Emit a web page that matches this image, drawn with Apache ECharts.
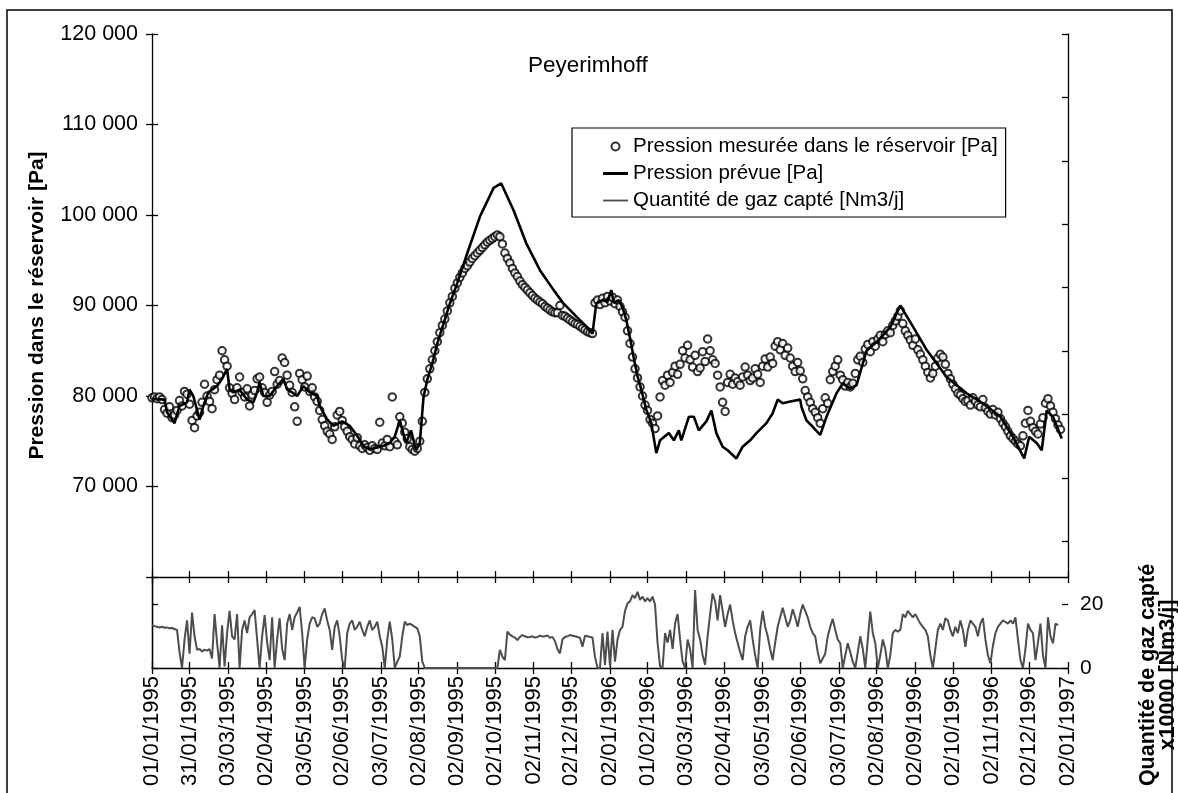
<!DOCTYPE html>
<html>
<head>
<meta charset="utf-8">
<title>Peyerimhoff</title>
<script src="https://cdn.jsdelivr.net/npm/echarts@6.0.0/dist/echarts.min.js"></script>
<style>
  html, body { margin: 0; padding: 0; background: #fff; }
  #chart { width: 1178px; height: 793px; }
</style>
</head>
<body>
<div id="chart"></div>
<script>
// dates of the x ticks (dd/mm/yyyy), positions are days since 01/01/1995
const tickLabels = [
  "01/01/1995", "31/01/1995", "03/03/1995", "02/04/1995", "03/05/1995", "02/06/1995",
  "03/07/1995", "02/08/1995", "02/09/1995", "02/10/1995", "02/11/1995", "02/12/1995",
  "02/01/1996", "01/02/1996", "03/03/1996", "02/04/1996", "03/05/1996", "02/06/1996",
  "03/07/1996", "02/08/1996", "02/09/1996", "02/10/1996", "02/11/1996", "02/12/1996",
  "02/01/1997"
];

// measured reservoir pressure [Pa], one reading every 2 days from 01/01/1995
const measuredStep = 2;
const measuredValues = [
  79800, 79900, 79700, 79900, 79600, 78500, 78100, 78800, 77600, 77900,
  78400, 79500, 78900, 80500, 80200, 79100, 77300, 76500, 77800, 78200,
  79300, 81300, 80000, 79400, 78600, 80700, 81800, 82300, 85000, 84000,
  83300, 80900, 80300, 79600, 80900, 82100, 80400, 79900, 80800, 78900,
  80100, 80600, 81900, 82100, 80900, 80400, 79300, 80100, 80500, 82700,
  81300, 81700, 84200, 83700, 82300, 81200, 80400, 78800, 77200, 82500,
  81800, 81000, 82200, 80500, 80900, 79900, 79400, 78400, 77400, 76700,
  76100, 75800, 75200, 76600, 77900, 78300, 77300, 76600, 76100, 75500,
  75200, 74700, 75400, 74500, 74200, 74600, 74300, 74000, 74500, 74200,
  74100, 77100, 74800, 74500, 75200, 74400, 79900, 75000, 74600, 77700,
  77000, 76000, 75300, 74400, 74100, 73900, 74200, 75000, 77200, 80400,
  81900, 83000, 84000, 85000, 86000, 87000, 87800, 88500, 89400, 90300,
  91000, 91900, 92500, 93100, 93600, 94100, 94400, 94800, 95200, 95500,
  95800, 96100, 96400, 96700, 97000, 97200, 97400, 97600, 97800, 97600,
  96800, 95800, 95200, 94700, 94100, 93600, 93200, 92700, 92300, 92000,
  91700, 91400, 91100, 90800, 90600, 90400, 90200, 89900, 89700, 89500,
  89300, 89200, 89200, 90000, 88900, 88800, 88600, 88400, 88200, 88000,
  87900, 87700, 87500, 87300, 87100, 87000, 86900, 90300, 90600, 90100,
  90800, 90300, 91000, 90500, 90900, 90200, 90600, 89900, 89300, 88700,
  87200, 85800, 84300, 83000, 82000, 81000, 80000, 79000, 78400, 77400,
  77000, 76400, 77800, 79900, 81700, 81200, 82300, 81500, 82600, 83300,
  82400, 83500, 85000, 84200, 85600, 84000, 83200, 84500, 82700, 83100,
  84900, 83800, 86300, 85000, 84000, 83600, 82300, 81000, 79300, 78300,
  81500, 82400, 81300, 82000, 81600, 81200, 82100, 83200, 82300, 81700,
  82000, 83000, 82400, 81500, 83300, 84100, 83200, 84300, 83600, 85500,
  86000, 85100, 85800, 84500, 85300, 84200, 83300, 82700, 83700, 82800,
  81900, 80600, 79900, 79300, 78600, 78200, 77600, 77000, 78600, 79800,
  79200, 81800, 82700, 83300, 84000, 82300, 81800, 81100, 81500, 81000,
  81400, 82500, 84000, 84400, 83700, 85200, 85700, 84900, 86000, 85500,
  86300, 86700, 86000, 86800, 87200, 87000, 87800, 88300, 88800, 89400,
  88000, 87200, 86700, 86200, 85600, 86300, 85100, 84600, 84000, 83300,
  82600, 82000, 82500, 83300, 84200, 84600, 84300, 83500, 82500, 81900,
  81300, 80800, 80300, 80100, 79700, 79400, 79500, 79000, 79800, 79400,
  79000, 78800, 79600, 78700, 78300, 78000, 78500, 77900, 78200, 77500,
  77000, 76600, 76100, 75600, 75300, 75000, 74700, 74500, 75600, 77000,
  78400, 77200, 76500, 76100, 75800, 76900, 77600, 79200, 79700, 78900,
  78200, 77500, 76800, 76300
];

// predicted pressure [Pa] at the days below
const predDays = [
  0, 10, 12, 18, 22, 28, 30, 33, 38, 41, 45, 52, 56, 60, 62, 65, 70, 76, 81, 84,
  86, 89, 94, 100, 105, 108, 112, 116, 121, 126, 132, 134, 140, 145, 152, 158, 164, 169, 174, 180,
  185, 190, 194, 198, 203, 207, 211, 214, 217, 220, 224, 228, 233, 238, 244, 252, 262, 273, 279, 289,
  299, 310, 321, 329, 339, 347, 352, 355, 360, 364, 367, 369, 373, 376, 379, 382, 385, 388, 391, 395,
  399, 403, 406, 413, 417, 421, 423, 429, 433, 437, 443, 447, 451, 456, 460, 467, 472, 478, 483, 491,
  496, 500, 504, 510, 518, 519, 523, 528, 534, 539, 547, 552, 558, 563, 571, 580, 590, 598, 608, 619,
  635, 651, 664, 678, 688, 697, 701, 707, 711, 715, 720, 727
];
const predValues = [
  79700, 79600, 78200, 77000, 78900, 79300, 80700, 80000, 77400, 78900, 80400, 81100, 81900, 83000, 80700, 80400, 80700, 79600, 79300, 80400,
  81500, 80000, 80000, 81100, 81900, 80700, 80400, 80000, 81100, 80400, 80000, 78900, 77400, 76700, 77200, 76700, 75600, 74500, 74100, 74300,
  74500, 74800, 75500, 77300, 74800, 76200, 74000, 74800, 79900, 81800, 83600, 85800, 88000, 90200, 92500, 95800, 99800, 103000, 103500, 100500,
  96900, 93900, 91700, 90200, 88800, 87700, 86900, 90200, 90600, 90400, 91700, 90300, 90600, 89800, 88400, 86400, 84200, 82200, 80700, 78500,
  77000, 73700, 75100, 75900, 75100, 76200, 75100, 77700, 77700, 76200, 77200, 78400, 75900, 74400, 74000, 73100, 74400, 75100, 75900, 77000,
  78100, 79600, 79200, 79400, 79600, 78800, 77300, 76600, 75700, 77700, 80300, 81400, 80800, 81200, 85000, 86100, 87600, 90000, 87700, 85100,
  82100, 80300, 79200, 77700, 75500, 73100, 75500, 74800, 74000, 78400, 77700, 75300
];

// captured gas [x10000 Nm3/j], one value every 2 days from 01/01/1995
const gasStep = 2;
const gasValues = [
  13.5, 13.2, 13, 12.8, 13, 12.7, 12.8, 12.5, 12.6, 12.3,
  12, 5, 0, 9, 15, 4.5, 17.5, 10, 5.7, 6,
  5.2, 5.8, 5.5, 6, 3, 17, 8, 0, 13.5, 0.5,
  11, 18, 10, 9, 17, 0, 12, 15, 11, 16,
  17, 18.3, 9, 0, 10, 16.7, 8, 2.5, 16, 0,
  9, 15.7, 6, 2.5, 14, 17, 12, 16, 17.5, 19.3,
  11, 0, 9, 14, 16, 15.7, 13, 14, 17, 18.8,
  15, 12, 5.7, 13, 15, 10, 2.5, 0, 11, 14,
  15, 12, 13, 14.6, 12, 10, 13, 15, 12, 13,
  14.6, 10, 6.7, 0, 9, 14.6, 9, 0, 2, 3.6,
  10, 14.6, 13.5, 14, 13.5, 13, 12.5, 10, 2, 0,
  0, 0, 0, 0, 0, 0, 0, 0, 0, 0,
  0, 0, 0, 0, 0, 0, 0, 0, 0, 0,
  0, 0, 0, 0, 0, 0, 0, 0, 0, 5.7,
  3.6, 2.5, 11.5, 10.5, 10, 9.6, 8.8, 9.8, 10.4, 10,
  9.7, 9.8, 10, 9.6, 9.8, 10.2, 9.9, 10, 10.3, 9.5,
  9.8, 8.5, 6, 4.6, 9, 9.8, 10, 10.4, 10.2, 10,
  9.8, 9.5, 6.7, 10.2, 10, 9.8, 9.6, 3.5, 0, 0,
  11, 1, 11.5, 0.5, 12, 2, 9, 12, 13, 18,
  20.4, 21, 23, 22, 24, 21.5, 22.5, 21, 22, 21,
  22.5, 20, 8, 0.5, 0, 11, 8, 12, 6, 14,
  17, 9, 2, 0, 9, 6, 0, 24.6, 12, 9,
  4, 1, 10, 17, 23.5, 21, 15, 23, 18, 13,
  17, 20, 15, 11, 8, 5, 2.5, 10, 13, 15,
  9, 4, 0, 12, 18, 13, 10, 6, 2.5, 8,
  13, 16, 19, 16, 13, 15, 18.5, 16, 13, 17,
  20, 18, 16, 13, 11, 10, 5, 1.5, 3, 4.5,
  10, 13, 15.5, 12, 9, 7.8, 0, 4, 7.8, 5,
  2, 0, 5, 10, 6, 0, 9, 17.8, 11, 7.8,
  0, 4, 9, 6, 0, 4, 11, 12, 11.5, 12,
  17, 16, 18, 17, 16, 17, 15.5, 14, 13, 12,
  10, 4, 0, 6, 12, 14, 12, 15.7, 15, 12,
  10, 13, 11, 15, 12, 6.7, 12, 15, 14, 13,
  10, 14, 15.7, 9, 4, 1.5, 7, 11, 13, 14,
  15, 14.5, 14, 15, 14, 16, 9, 2.5, 0, 6,
  14, 12, 11, 2.5, 8, 14, 4, 0, 16, 10,
  7.8, 14, 13.5
];
const gasTicks = [0, 20];
const gasUpperTicks = [40, 60, 80, 100, 120, 140, 160, 180, 200];

// day numbers of the tick dates
const dayOf = s => {
  const [d, m, y] = s.split("/").map(Number);
  return Math.round((Date.UTC(y, m - 1, d) - Date.UTC(1995, 0, 1)) / 86400000);
};
const tickDays = tickLabels.map(dayOf);
const labelByDay = {};
tickDays.forEach((d, i) => { labelByDay[d] = tickLabels[i]; });

const measured = measuredValues.map((v, i) => [i * measuredStep, v]);
const predicted = predDays.map((d, i) => [d, predValues[i]]);
const gas = gasValues.map((v, i) => [i * gasStep, v]);

const FONT = "'Liberation Sans', Arial, Helvetica, sans-serif";
const black = "#000";
const gasColor = "#4d4d4d";

const chart = echarts.init(document.getElementById("chart"), null, { renderer: "canvas" });

// x axes: two per line so the ticks cross it
const xBase = {
  type: "value", min: 0, max: 732,
  splitLine: { show: false },
  axisLine: { show: true, lineStyle: { color: black, width: 1.3 } }
};
const xTick = inside => ({ show: true, inside: inside, length: 6, customValues: tickDays, lineStyle: { color: black, width: 1.3 } });

chart.setOption({
  animation: false,
  backgroundColor: "#fff",
  textStyle: { fontFamily: FONT },
  title: {
    text: "Peyerimhoff",
    left: 523, top: 49,
    textStyle: { fontFamily: FONT, fontSize: 22.5, fontWeight: "normal", color: black }
  },
  legend: {
    orient: "vertical",
    left: 572, top: 128,
    padding: [8, 8, 6, 31],
    itemGap: 6,
    itemWidth: 25, itemHeight: 8,
    borderColor: black, borderWidth: 1.2,
    textStyle: { fontFamily: FONT, fontSize: 20.5, color: black },
    data: [
      { name: "Pression mesurée dans le réservoir [Pa]", icon: "emptyCircle" },
      { name: "Pression prévue [Pa]", icon: "path://M0,0h25v3h-25z" },
      { name: "Quantité de gaz capté [Nm3/j]", icon: "path://M0,0h25v1.8h-25z" }
    ]
  },
  grid: [
    { left: 152, right: 110, top: 34, height: 543 },
    { left: 152, right: 110, top: 577, height: 91 }
  ],
  xAxis: [
    Object.assign({}, xBase, { gridIndex: 0, position: "bottom", axisTick: xTick(false), axisLabel: { show: false } }),
    Object.assign({}, xBase, { gridIndex: 0, position: "bottom", axisLine: { show: false }, axisTick: xTick(true), axisLabel: { show: false } }),
    Object.assign({}, xBase, {
      gridIndex: 1, position: "bottom", axisTick: xTick(false),
      axisLabel: {
        show: true, rotate: 90, margin: 8, customValues: tickDays,
        fontFamily: FONT, fontSize: 22, color: black,
        formatter: v => labelByDay[v] || ""
      }
    }),
    Object.assign({}, xBase, { gridIndex: 1, position: "bottom", axisLine: { show: false }, axisTick: xTick(true), axisLabel: { show: false } })
  ],
  yAxis: [
    {
      gridIndex: 0, type: "value", position: "left",
      min: 60000, max: 120000, interval: 10000,
      splitLine: { show: false },
      axisLine: { show: true, lineStyle: { color: black, width: 1.3 } },
      axisTick: { show: true, length: 6, lineStyle: { color: black, width: 1.3 } },
      axisLabel: {
        margin: 14, fontFamily: FONT, fontSize: 21.5, color: black,
        formatter: v => (v >= 70000 ? (v / 1000) + " 000" : "")
      },
      name: "Pression dans le réservoir [Pa]",
      nameLocation: "middle", nameGap: 104,
      nameTextStyle: { fontFamily: FONT, fontSize: 21, fontWeight: "bold", color: black }
    },
    {
      gridIndex: 0, type: "value", position: "left",
      min: 60000, max: 120000, interval: 10000,
      splitLine: { show: false }, axisLine: { show: false }, axisLabel: { show: false },
      axisTick: { show: true, inside: true, length: 6, lineStyle: { color: black, width: 1.3 } }
    },
    {
      gridIndex: 0, type: "value", position: "right",
      min: 28.7, max: 200,
      splitLine: { show: false }, axisLabel: { show: false },
      axisLine: { show: true, lineStyle: { color: black, width: 1.3 } },
      axisTick: { show: true, inside: true, length: 6, customValues: gasUpperTicks, lineStyle: { color: black, width: 1.3 } }
    },
    {
      gridIndex: 1, type: "value", position: "left",
      min: 0, max: 28.7,
      splitLine: { show: false }, axisLabel: { show: false }, axisTick: { show: false },
      axisLine: { show: true, lineStyle: { color: black, width: 1.3 } }
    },
    {
      gridIndex: 1, type: "value", position: "right",
      min: 0, max: 28.7,
      splitLine: { show: false },
      axisLine: { show: true, lineStyle: { color: black, width: 1.3 } },
      axisTick: { show: true, length: 6, customValues: gasTicks, lineStyle: { color: black, width: 1.3 } },
      axisLabel: { margin: 12, customValues: gasTicks, fontFamily: FONT, fontSize: 21, color: black }
    },
    {
      gridIndex: 1, type: "value", position: "right",
      min: 0, max: 28.7,
      splitLine: { show: false }, axisLine: { show: false }, axisLabel: { show: false },
      axisTick: { show: true, inside: true, length: 6, customValues: gasTicks, lineStyle: { color: black, width: 1.3 } }
    }
  ],
  series: [
    {
      name: "Pression mesurée dans le réservoir [Pa]",
      type: "scatter",
      xAxisIndex: 0, yAxisIndex: 0,
      symbol: "emptyCircle", symbolSize: 7.5,
      itemStyle: { color: black, borderColor: black, borderWidth: 1.4 },
      data: measured
    },
    {
      name: "Pression prévue [Pa]",
      type: "line",
      xAxisIndex: 0, yAxisIndex: 0,
      symbol: "none",
      lineStyle: { color: black, width: 2.6 },
      itemStyle: { color: black },
      data: predicted
    },
    {
      name: "Quantité de gaz capté [Nm3/j]",
      type: "line",
      xAxisIndex: 2, yAxisIndex: 4,
      symbol: "none",
      lineStyle: { color: gasColor, width: 2 },
      itemStyle: { color: gasColor },
      data: gas
    }
  ],
  graphic: [
    {
      type: "rect", silent: true,
      shape: { x: 7, y: 10, width: 1165, height: 800 },
      style: { fill: "none", stroke: black, lineWidth: 1.5 }
    },
    {
      type: "text", silent: true,
      x: 1158, y: 675, rotation: Math.PI / 2,
      style: {
        text: "Quantité de gaz capté\nx10000 [Nm3/j]",
        font: "bold 21.5px " + FONT,
        fill: black, align: "center", verticalAlign: "middle", lineHeight: 20
      }
    }
  ]
});
</script>
</body>
</html>
